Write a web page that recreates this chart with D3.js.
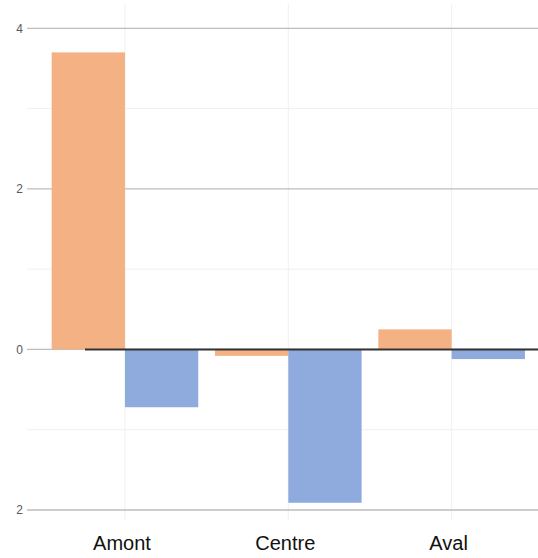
<!DOCTYPE html>
<html><head><meta charset="utf-8">
<script src="https://cdn.jsdelivr.net/npm/d3@7"></script>
<style>body{margin:0;background:#fff}svg{display:block}</style>
</head><body><svg id="c" width="538" height="558"></svg>
<script>
const categories = ["Amont", "Centre", "Aval"];
const seriesNames = ["s1", "s2"];
const series1 = [3.70, -0.08, 0.25];
const series2 = [-0.72, -1.91, -0.12];
const majorTicks = [4, 2, 0, -2];
const tickLabels = ["4", "2", "0", "2"];
const minorTicks = [3, 1, -1];
const colors = ["#F4B183", "#8FAADC"];

const W = 538, H = 558;
const svg = d3.select("#c");
const y = d3.scaleLinear().domain([-2, 4]).range([510, 28.3]);
const x = d3.scaleBand().domain(categories).range([43.3, 533.3]);
const inner = d3.scaleBand().domain(seriesNames).range([x.bandwidth()/2 - 73.3, x.bandwidth()/2 + 73.3]);
const gx0 = 27, gx1 = W;

svg.append("g").selectAll("line").data(minorTicks).join("line")
  .attr("x1", gx0).attr("x2", gx1).attr("y1", d => y(d)).attr("y2", d => y(d))
  .attr("stroke", "#f0f0f0").attr("stroke-width", 1);
svg.append("g").selectAll("line").data(categories).join("line")
  .attr("x1", d => x(d) + x.bandwidth()/2).attr("x2", d => x(d) + x.bandwidth()/2)
  .attr("y1", 4).attr("y2", 520)
  .attr("stroke", "#f0f0f0").attr("stroke-width", 1);
svg.append("g").selectAll("line").data(majorTicks).join("line")
  .attr("x1", gx0).attr("x2", gx1).attr("y1", d => y(d)).attr("y2", d => y(d))
  .attr("stroke", "#bdbdbd").attr("stroke-width", 1.3);
svg.append("g").selectAll("text").data(majorTicks).join("text")
  .attr("x", 23).attr("y", d => y(d)).attr("dy", "0.35em")
  .attr("text-anchor", "end").attr("font-family", "Liberation Sans, Arial, sans-serif")
  .attr("font-size", 12).attr("fill", "#595959")
  .text((d, i) => tickLabels[i]);

const data = [];
categories.forEach((c, i) => {
  data.push({c, s: "s1", v: series1[i], col: colors[0]});
  data.push({c, s: "s2", v: series2[i], col: colors[1]});
});
svg.append("g").selectAll("rect").data(data).join("rect")
  .attr("x", d => x(d.c) + inner(d.s))
  .attr("width", inner.bandwidth())
  .attr("y", d => y(Math.max(0, d.v)))
  .attr("height", d => Math.abs(y(d.v) - y(0)))
  .attr("fill", d => d.col);

svg.append("line").attr("x1", 85).attr("x2", W).attr("y1", y(0)).attr("y2", y(0))
  .attr("stroke", "#333").attr("stroke-width", 2);

svg.append("g").selectAll("text").data(categories).join("text")
  .attr("x", d => x(d) + x.bandwidth()/2 - 3).attr("y", 550)
  .attr("text-anchor", "middle").attr("font-family", "Liberation Sans, Arial, sans-serif")
  .attr("font-size", 20).attr("fill", "#111")
  .text(d => d);
</script></body></html>
